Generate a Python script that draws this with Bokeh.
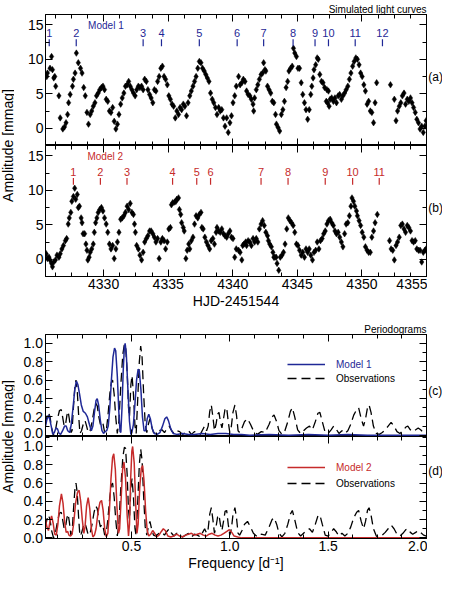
import math
from bokeh.plotting import figure
from bokeh.models import (Range1d, LinearAxis, SingleIntervalTicker, FixedTicker, Label, Legend,
                          LegendItem, NumeralTickFormatter, CustomLabelingPolicy)
from bokeh.layouts import row, column
from bokeh.core.properties import value
from bokeh.embed import file_html
from bokeh.resources import INLINE

FONT = "Liberation Sans"
BLUE = "#1f2896"
RED = "#c62b2b"

# ---------------- light-curve data (HJD-2451544, mmag) ----------------
TA = [4325.60, 4325.65, 4325.85, 4325.97, 4326.04, 4326.14, 4326.22, 4326.29, 4326.54, 4326.64,
      4326.84, 4326.97, 4327.09, 4327.21, 4327.29, 4327.41, 4327.59, 4327.66, 4327.79, 4327.89,
      4328.04, 4328.21, 4328.33, 4328.46, 4328.58, 4328.71, 4328.83, 4328.96, 4329.08, 4329.20,
      4329.33, 4329.45, 4329.58, 4329.70, 4329.83, 4329.95, 4330.07, 4330.20, 4330.32, 4330.45,
      4330.57, 4330.70, 4330.82, 4330.95, 4331.07, 4331.19, 4331.32, 4331.44, 4331.57, 4331.69,
      4331.82, 4331.94, 4332.06, 4332.19, 4332.31, 4332.44, 4332.56, 4332.69, 4332.81, 4332.94,
      4333.06, 4333.18, 4333.31, 4333.43, 4333.56, 4333.68, 4333.81, 4333.93, 4334.05, 4334.18,
      4334.30, 4334.43, 4334.55, 4334.68, 4334.80, 4334.93, 4335.05, 4335.17, 4335.30, 4335.42,
      4335.55, 4335.67, 4335.80, 4335.92, 4336.04, 4336.17, 4336.29, 4336.42, 4336.54, 4336.67,
      4336.79, 4336.92, 4337.04, 4337.16, 4337.29, 4337.41, 4337.54, 4337.66, 4337.79, 4337.91,
      4338.03, 4338.16, 4338.28, 4338.41, 4338.53, 4338.66, 4338.78, 4338.91, 4339.03, 4339.15,
      4339.28, 4339.40, 4339.53, 4339.65, 4339.78, 4339.90, 4340.02, 4340.15, 4340.27, 4340.45,
      4340.57, 4340.70, 4340.82, 4340.95, 4341.07, 4341.19, 4341.32, 4341.44, 4341.57, 4341.62,
      4341.69, 4341.82, 4341.94, 4342.06, 4342.19, 4342.31, 4342.39, 4342.49, 4342.56, 4342.69,
      4342.81, 4342.94, 4343.06, 4343.18, 4343.31, 4343.38, 4343.51, 4343.63, 4343.76, 4343.88,
      4344.00, 4344.13, 4344.25, 4344.35, 4344.48, 4344.60, 4344.70, 4344.80, 4344.93, 4345.05,
      4345.17, 4345.30, 4345.42, 4345.55, 4345.67, 4345.80, 4345.92, 4346.04, 4346.12, 4346.22,
      4346.29, 4346.42, 4346.54, 4346.62, 4346.74, 4346.87, 4346.99, 4347.11, 4347.24, 4347.29,
      4347.34, 4347.41, 4347.46, 4347.54, 4347.66, 4347.79, 4347.91, 4348.03, 4348.16, 4348.28,
      4348.41, 4348.53, 4348.66, 4348.78, 4348.91, 4349.03, 4349.15, 4349.28, 4349.40, 4349.53,
      4349.65, 4349.78, 4349.90, 4350.02, 4350.15, 4350.27, 4350.40, 4350.52, 4350.65, 4350.77,
      4350.90, 4351.02, 4351.14, 4352.21, 4352.51, 4352.64, 4352.76, 4352.89, 4353.01, 4353.13,
      4353.26, 4353.38, 4353.51, 4353.63, 4353.76, 4353.88, 4354.00, 4354.13, 4354.25, 4354.38,
      4354.50, 4354.63, 4354.75, 4354.88, 4354.97]
VA = [7.5, 8.0, 8.7, 10.4, 8.5, 7.3, 7.5, 6.1, 4.7, 1.5,
      -0.1, 0.2, 0.8, 2.0, 3.7, 4.9, 6.1, 7.1, 8.0, 10.9,
      9.5, 8.7, 8.0, 5.9, 4.7, 2.3, 0.6, 2.0, 2.5, 3.2,
      3.7, 4.7, 5.1, 5.6, 5.9, 6.1, 5.6, 4.2, 3.9, 2.5,
      2.3, 3.0, 1.0, -0.1, 0.6, 2.0, 3.5, 4.4, 5.1, 6.1,
      6.3, 6.8, 6.1, 5.6, 5.1, 4.7, 5.6, 6.1, 5.9, 6.1,
      5.6, 7.1, 6.8, 5.6, 4.9, 4.4, 3.7, 5.6, 5.4, 6.8,
      7.5, 8.7, 9.0, 7.5, 7.1, 6.3, 4.7, 4.2, 3.5, 3.2,
      1.5, 2.5, 2.0, 3.0, 2.7, 3.5, 3.2, 1.8, 3.7, 4.7,
      5.4, 6.1, 6.8, 7.5, 8.7, 9.7, 9.5, 8.7, 8.3, 7.8,
      7.3, 6.8, 5.1, 4.2, 3.7, 3.0, 2.0, 3.0, 2.5, 2.7,
      1.5, 0.3, 1.5, -0.6, 0.8, 1.8, 3.7, 4.7, 6.1, 7.5,
      6.3, 6.6, 7.1, 6.8, 5.4, 4.9, 4.7, 4.2, 3.5, 2.5,
      4.4, 5.6, 6.3, 7.1, 7.8, 8.0, 9.5, 8.5, 8.3, 6.1,
      5.6, 5.1, 3.9, 3.7, 2.0, 0.6, 0.1, -0.4, 2.0, 2.7,
      3.9, 5.9, 6.8, 8.3, 8.7, 9.0, 11.6, 10.9, 10.4, 8.7,
      8.7, 6.6, 4.9, 3.7, 2.7, 1.3, 2.7, 4.9, 6.1, 7.3,
      8.5, 9.2, 10.2, 10.0, 7.8, 6.8, 6.6, 5.9, 3.9, 5.6,
      3.7, 5.4, 3.2, 4.2, 4.4, 3.9, 4.4, 3.7, 4.7, 4.9,
      4.2, 4.7, 5.1, 5.6, 6.1, 7.1, 8.0, 9.0, 9.7, 10.2,
      10.0, 9.2, 8.0, 7.5, 6.3, 5.4, 3.5, 3.9, 2.5, 2.3,
      0.8, 3.7, 6.6, 6.3, 4.2, 1.1, 2.5, 3.2, 3.7, 4.7,
      5.1, 3.5, 4.2, 3.9, 4.4, 3.7, 3.0, 2.3, 1.3, 0.8,
      -0.1, 0.3, -0.6, 0.3, 1.1]

TB = [4325.55, 4325.65, 4325.77, 4325.85, 4325.97, 4326.04, 4326.14, 4326.27, 4326.39, 4326.54,
      4326.64, 4326.77, 4326.89, 4327.04, 4327.14, 4327.26, 4327.34, 4327.46, 4327.54, 4327.66,
      4327.76, 4327.84, 4327.96, 4328.04, 4328.13, 4328.26, 4328.33, 4328.41, 4328.53, 4328.63,
      4328.71, 4328.78, 4328.88, 4328.96, 4329.08, 4329.20, 4329.28, 4329.38, 4329.48, 4329.58,
      4329.70, 4329.83, 4329.95, 4330.07, 4330.20, 4330.32, 4330.45, 4330.57, 4330.70, 4330.82,
      4330.95, 4331.07, 4331.19, 4331.32, 4331.44, 4331.57, 4331.69, 4331.82, 4331.94, 4332.06,
      4332.19, 4332.31, 4332.39, 4332.46, 4332.56, 4332.69, 4332.81, 4332.94, 4333.06, 4333.18,
      4333.31, 4333.43, 4333.56, 4333.68, 4333.81, 4333.93, 4334.05, 4334.18, 4334.30, 4334.43,
      4334.55, 4334.68, 4334.80, 4334.93, 4335.05, 4335.17, 4335.25, 4335.35, 4335.50, 4335.60,
      4335.67, 4335.80, 4335.87, 4335.97, 4336.04, 4336.17, 4336.24, 4336.37, 4336.47, 4336.59,
      4336.67, 4336.79, 4336.92, 4337.04, 4337.16, 4337.29, 4337.41, 4337.54, 4337.61, 4337.71,
      4337.84, 4337.96, 4338.08, 4338.21, 4338.33, 4338.46, 4338.58, 4338.71, 4338.78, 4338.91,
      4339.03, 4339.15, 4339.28, 4339.40, 4339.53, 4339.65, 4339.78, 4339.90, 4340.02, 4340.15,
      4340.27, 4340.45, 4340.57, 4340.70, 4340.77, 4340.87, 4341.00, 4341.07, 4341.19, 4341.32,
      4341.44, 4341.57, 4341.69, 4341.82, 4341.94, 4342.06, 4342.19, 4342.31, 4342.44, 4342.56,
      4342.69, 4342.76, 4342.86, 4342.99, 4343.11, 4343.18, 4343.26, 4343.36, 4343.43, 4343.56,
      4343.68, 4343.81, 4343.93, 4344.05, 4344.18, 4344.30, 4344.43, 4344.55, 4344.68, 4344.80,
      4344.93, 4345.05, 4345.17, 4345.30, 4345.42, 4345.55, 4345.67, 4345.80, 4345.92, 4346.04,
      4346.17, 4346.29, 4346.42, 4346.54, 4346.67, 4346.79, 4346.92, 4347.04, 4347.16, 4347.29,
      4347.41, 4347.54, 4347.66, 4347.79, 4347.91, 4348.03, 4348.16, 4348.28, 4348.41, 4348.53,
      4348.66, 4348.78, 4348.91, 4349.03, 4349.15, 4349.23, 4349.35, 4349.45, 4349.58, 4349.65,
      4349.78, 4349.90, 4350.02, 4350.15, 4350.27, 4350.40, 4350.52, 4350.65, 4350.77, 4350.90,
      4351.02, 4351.19, 4352.14, 4352.26, 4352.39, 4352.51, 4352.64, 4352.76, 4352.89, 4353.01,
      4353.13, 4353.26, 4353.38, 4353.51, 4353.63, 4353.76, 4353.88, 4354.00, 4354.13, 4354.25,
      4354.38, 4354.50, 4354.63, 4354.75, 4354.88, 4354.97]
VB = [0.8, 0.1, 0.3, -0.1, -0.6, -1.1, -0.4, -0.1, 0.6, 0.3,
      0.8, 1.5, 2.0, 2.7, 3.0, 5.1, 6.0, 6.8, 8.4, 9.1,
      10.3, 8.7, 9.4, 7.5, 7.7, 6.0, 5.3, 3.7, 3.7, 2.2,
      1.3, -0.1, 0.3, 1.0, 1.5, 2.2, 3.9, 5.3, 6.0, 6.8,
      7.2, 7.5, 7.0, 6.0, 5.1, 3.9, 2.2, 1.5, 2.0, 0.1,
      1.5, 2.5, 3.9, 5.8, 6.0, 6.3, 6.8, 7.7, 7.2, 8.1,
      6.8, 6.5, 5.1, 3.9, 2.0, 1.5, 0.6, -0.1, 1.0, 2.5,
      3.0, 3.4, 4.1, 4.1, 3.7, 3.2, 2.5, 3.0, 0.1, 2.5,
      3.0, 2.7, 1.5, 2.5, 4.4, 4.6, 7.9, 8.2, 8.3, 8.4,
      8.7, 8.9, 7.2, 6.5, 5.3, 4.6, 4.1, 0.1, 1.3, 2.2,
      1.5, 2.7, 3.2, 5.1, 6.3, 6.0, 6.5, 6.8, 4.6, 4.4,
      3.2, 2.5, 2.0, 1.5, 2.7, 3.0, 2.2, 3.9, 4.6, 4.1,
      3.9, 4.4, 3.7, 3.4, 3.2, 3.7, 4.1, 3.2, 3.0, 0.3,
      1.5, 1.3, 1.0, -0.1, 2.0, 2.2, 2.5, 2.0, 2.7, 2.5,
      2.0, 3.0, 2.5, 3.0, 2.5, 4.4, 5.1, 5.6, 4.9, 3.9,
      3.4, 2.7, 2.2, 1.8, 1.0, 0.3, 0.3, 0.3, -0.6, -1.6,
      0.3, 0.6, 1.0, 2.2, 4.4, 6.0, 5.6, 5.3, 4.9, 3.9,
      2.2, 2.0, 1.3, 0.6, 1.0, 0.3, 1.5, 1.0, 1.5, 0.6,
      -0.1, 1.0, 1.3, 2.5, 1.5, 2.7, 3.0, 3.7, 4.1, 5.1,
      5.6, 5.8, 5.3, 4.9, 4.1, 3.7, 3.9, 3.2, 2.5, 1.8,
      3.7, 5.1, 5.3, 6.3, 7.7, 8.9, 8.4, 7.7, 7.0, 6.3,
      5.6, 4.9, 3.9, 3.2, 1.8, 1.3, 1.0, 1.0, 3.2, 4.1,
      5.3, 6.5, 2.7, 1.5, 1.3, -0.1, 2.0, 2.5, 3.2, 4.9,
      5.1, 4.4, 3.9, 4.9, 4.6, 4.1, 2.7, 2.5, 2.7, 1.5,
      1.3, 1.3, -0.4, 1.0, 1.3, 1.5]

# event markers
M1_T = [4325.79, 4327.88, 4333.06, 4334.48, 4337.41, 4340.34, 4342.39, 4344.67,
        4346.37, 4347.41, 4349.48, 4351.59]
M1_LAB = ["1", "2", "3", "4", "5", "6", "7", "8", "9", "10", "11", "12"]
M2_T = [4327.66, 4329.75, 4331.81, 4335.34, 4337.21, 4338.28, 4342.19, 4344.28,
        4347.16, 4349.28, 4351.34]
M2_LAB = ["1", "2", "3", "4", "5", "6", "7", "8", "9", "10", "11"]

# ---------------- periodograms (frequency d^-1, normalised amplitude) ----------------
F_M1 = [0.063, 0.070, 0.080, 0.092, 0.100, 0.108, 0.116, 0.124, 0.132, 0.140,
        0.150, 0.160, 0.168, 0.176, 0.186, 0.194, 0.203, 0.212, 0.220, 0.228,
        0.236, 0.245, 0.255, 0.266, 0.276, 0.286, 0.296, 0.304, 0.312, 0.320,
        0.326, 0.333, 0.342, 0.350, 0.358, 0.366, 0.374, 0.382, 0.390, 0.398,
        0.406, 0.414, 0.420, 0.428, 0.436, 0.442, 0.446, 0.452, 0.458, 0.464,
        0.468, 0.474, 0.482, 0.490, 0.497, 0.502, 0.510, 0.518, 0.526, 0.534,
        0.540, 0.548, 0.556, 0.564, 0.572, 0.580, 0.588, 0.596, 0.606, 0.616,
        0.630, 0.645, 0.658, 0.670, 0.679, 0.688, 0.700, 0.712, 0.730, 0.760,
        0.790, 0.820, 0.860, 0.900, 0.940, 0.980, 1.020, 1.060, 1.100, 1.200,
        1.300, 1.400, 1.500, 1.600, 1.700, 1.800, 1.900, 2.000]
A_M1 = [0.10, 0.17, 0.22, 0.10, 0.01, 0.03, 0.08, 0.07, 0.02, 0.01,
        0.05, 0.10, 0.10, 0.05, 0.03, 0.12, 0.30, 0.50, 0.59, 0.55,
        0.45, 0.33, 0.26, 0.24, 0.20, 0.12, 0.05, 0.10, 0.25, 0.38,
        0.40, 0.33, 0.16, 0.05, 0.02, 0.04, 0.05, 0.10, 0.30, 0.60,
        0.85, 0.95, 0.92, 0.65, 0.25, 0.04, 0.03, 0.30, 0.70, 0.96,
        1.00, 0.88, 0.50, 0.15, 0.01, 0.03, 0.12, 0.35, 0.60, 0.72,
        0.70, 0.50, 0.20, 0.05, 0.05, 0.18, 0.23, 0.18, 0.07, 0.02,
        0.01, 0.03, 0.10, 0.18, 0.20, 0.16, 0.07, 0.02, 0.01, 0.02,
        0.01, 0.01, 0.02, 0.01, 0.02, 0.02, 0.01, 0.01, 0.00, 0.01,
        0.00, 0.01, 0.00, 0.01, 0.00, 0.00, 0.00, 0.00]

F_M2 = [0.063, 0.070, 0.078, 0.086, 0.094, 0.102, 0.110, 0.118, 0.126, 0.134,
        0.144, 0.152, 0.160, 0.168, 0.176, 0.182, 0.190, 0.198, 0.206, 0.216,
        0.226, 0.234, 0.242, 0.250, 0.258, 0.264, 0.272, 0.280, 0.288, 0.296,
        0.304, 0.312, 0.320, 0.330, 0.340, 0.348, 0.356, 0.364, 0.372, 0.380,
        0.388, 0.396, 0.404, 0.410, 0.418, 0.426, 0.434, 0.440, 0.448, 0.455,
        0.462, 0.470, 0.478, 0.485, 0.490, 0.496, 0.502, 0.506, 0.514, 0.522,
        0.528, 0.534, 0.542, 0.550, 0.557, 0.564, 0.572, 0.580, 0.588, 0.598,
        0.608, 0.618, 0.628, 0.640, 0.652, 0.662, 0.672, 0.685, 0.700, 0.715,
        0.730, 0.745, 0.760, 0.775, 0.790, 0.805, 0.820, 0.835, 0.850, 0.865,
        0.880, 0.895, 0.910, 0.925, 0.940, 0.955, 0.970, 0.985, 0.998, 1.010,
        1.022, 1.040, 1.060, 1.100, 1.200, 1.300, 1.400, 1.500, 1.600, 1.700,
        1.800, 1.900, 2.000]
A_M2 = [0.20, 0.12, 0.08, 0.18, 0.24, 0.16, 0.04, 0.03, 0.15, 0.35,
        0.48, 0.38, 0.18, 0.06, 0.07, 0.03, 0.02, 0.04, 0.15, 0.38,
        0.50, 0.52, 0.40, 0.20, 0.05, 0.12, 0.35, 0.44, 0.32, 0.10,
        0.01, 0.03, 0.10, 0.28, 0.39, 0.41, 0.30, 0.10, 0.01, 0.05,
        0.30, 0.65, 0.88, 0.92, 0.75, 0.35, 0.05, 0.10, 0.45, 0.75,
        0.83, 0.65, 0.25, 0.02, 0.15, 0.65, 0.95, 1.00, 0.82, 0.35,
        0.05, 0.15, 0.55, 0.76, 0.79, 0.62, 0.30, 0.08, 0.02, 0.04,
        0.08, 0.05, 0.01, 0.03, 0.07, 0.10, 0.08, 0.02, 0.01, 0.02,
        0.04, 0.02, 0.01, 0.03, 0.04, 0.05, 0.03, 0.04, 0.05, 0.03,
        0.02, 0.04, 0.05, 0.03, 0.02, 0.03, 0.05, 0.07, 0.09, 0.06,
        0.02, 0.01, 0.00, 0.00, 0.00, 0.00, 0.00, 0.00, 0.00, 0.00,
        0.00, 0.00, 0.00]

F_OBS = [0.063, 0.070, 0.078, 0.086, 0.094, 0.104, 0.114, 0.124, 0.134, 0.143,
         0.150, 0.158, 0.165, 0.172, 0.178, 0.184, 0.192, 0.198, 0.205, 0.212,
         0.218, 0.224, 0.232, 0.238, 0.246, 0.256, 0.264, 0.272, 0.280, 0.290,
         0.300, 0.310, 0.318, 0.326, 0.334, 0.342, 0.350, 0.356, 0.364, 0.372,
         0.380, 0.390, 0.398, 0.404, 0.412, 0.420, 0.428, 0.436, 0.446, 0.456,
         0.464, 0.470, 0.478, 0.485, 0.490, 0.497, 0.503, 0.510, 0.518, 0.524,
         0.532, 0.540, 0.547, 0.554, 0.562, 0.570, 0.578, 0.586, 0.594, 0.602,
         0.612, 0.625, 0.640, 0.655, 0.668, 0.680, 0.692, 0.704, 0.716, 0.730,
         0.745, 0.760, 0.775, 0.790, 0.805, 0.820, 0.835, 0.850, 0.862, 0.872,
         0.882, 0.890, 0.898, 0.906, 0.914, 0.922, 0.930, 0.938, 0.945, 0.952,
         0.960, 0.968, 0.976, 0.984, 0.992, 1.000, 1.008, 1.016, 1.026, 1.034,
         1.042, 1.050, 1.062, 1.075, 1.090, 1.105, 1.120, 1.140, 1.160, 1.180,
         1.200, 1.215, 1.225, 1.238, 1.250, 1.265, 1.280, 1.295, 1.308, 1.318,
         1.330, 1.345, 1.360, 1.375, 1.390, 1.405, 1.420, 1.435, 1.448, 1.458,
         1.470, 1.485, 1.500, 1.515, 1.528, 1.540, 1.555, 1.570, 1.585, 1.600,
         1.615, 1.630, 1.645, 1.655, 1.668, 1.680, 1.690, 1.700, 1.708, 1.718,
         1.730, 1.745, 1.760, 1.775, 1.790, 1.805, 1.820, 1.835, 1.850, 1.865,
         1.880, 1.895, 1.905, 1.918, 1.930, 1.945, 1.958, 1.970, 1.985, 2.000]
A_OBS = [0.12, 0.20, 0.25, 0.20, 0.08, 0.00, 0.06, 0.18, 0.27, 0.28,
         0.20, 0.10, 0.12, 0.22, 0.26, 0.18, 0.03, 0.05, 0.30, 0.52,
         0.60, 0.50, 0.20, 0.02, 0.05, 0.13, 0.16, 0.10, 0.03, 0.05,
         0.15, 0.28, 0.35, 0.32, 0.20, 0.12, 0.15, 0.12, 0.03, 0.05,
         0.20, 0.45, 0.58, 0.60, 0.45, 0.20, 0.02, 0.15, 0.55, 0.88,
         0.99, 0.98, 0.70, 0.30, 0.20, 0.55, 0.65, 0.45, 0.10, 0.02,
         0.40, 0.80, 0.97, 0.85, 0.45, 0.12, 0.03, 0.12, 0.18, 0.10,
         0.03, 0.02, 0.05, 0.06, 0.03, 0.07, 0.10, 0.05, 0.02, 0.05,
         0.04, 0.01, 0.03, 0.05, 0.01, 0.04, 0.03, 0.01, 0.06, 0.10,
         0.05, 0.10, 0.26, 0.33, 0.20, 0.05, 0.12, 0.23, 0.25, 0.15,
         0.08, 0.18, 0.29, 0.30, 0.15, 0.03, 0.10, 0.25, 0.33, 0.22,
         0.05, 0.03, 0.08, 0.15, 0.18, 0.12, 0.05, 0.01, 0.04, 0.03,
         0.12, 0.20, 0.22, 0.15, 0.05, 0.01, 0.05, 0.15, 0.26, 0.30,
         0.20, 0.06, 0.02, 0.05, 0.08, 0.10, 0.06, 0.15, 0.24, 0.25,
         0.15, 0.03, 0.02, 0.06, 0.10, 0.07, 0.02, 0.05, 0.02, 0.05,
         0.12, 0.22, 0.28, 0.30, 0.18, 0.10, 0.18, 0.30, 0.33, 0.25,
         0.10, 0.02, 0.01, 0.03, 0.06, 0.10, 0.14, 0.10, 0.04, 0.02,
         0.05, 0.09, 0.10, 0.06, 0.04, 0.06, 0.08, 0.06, 0.03, 0.02]

PG_YTICKS = [0.0, 0.2, 0.4, 0.6, 0.8, 1.0]
PG_YLABELS = ["0.0", "0.2", "0.4", "0.6", "0.8", "1.0"]

assert len(TA) == len(VA) and len(TB) == len(VB)
assert len(F_M1) == len(A_M1) and len(F_M2) == len(A_M2) and len(F_OBS) == len(A_OBS)

# ---------------- layout constants ----------------
LAB_W, RLAB_W, FRAME_W, LEFT, RIGHT = 14, 15, 381, 31, 1
HA_TOP, HA_FR, HB_FR, HB_BOT = 14, 131, 131, 36
HC_TOP, HC_FR, HD_FR, HD_BOT = 22, 102, 102, 35

HIDE = CustomLabelingPolicy(code="for (const i of Array.from(indices)) { indices.unset(i) }\nreturn indices")


def style_axis(ax, labels):
    ax.axis_line_color = "black"
    ax.axis_line_width = 1
    ax.major_tick_line_color = "black"
    ax.minor_tick_line_color = "black"
    ax.major_tick_line_width = 1
    ax.minor_tick_line_width = 1
    ax.major_tick_in = 7
    ax.major_tick_out = 0
    ax.minor_tick_in = 4
    ax.minor_tick_out = 0
    if labels:
        ax.major_label_text_font = FONT
        ax.major_label_text_font_size = "14px"
        ax.major_label_text_color = "black"
        ax.major_label_standoff = 2
    else:
        ax.major_label_text_font_size = "0px"
        ax.major_label_standoff = 0
        ax.major_label_policy = HIDE


def panel(width, height, top, bottom, left, xr, yr, xint, xminor, yint, yminor, xfmt,
          bottom_labels, left_labels, xlabel=None):
    p = figure(width=width, height=height, x_range=xr, y_range=yr,
               output_backend="svg", toolbar_location=None,
               min_border_left=left, min_border_right=RIGHT,
               min_border_top=top, min_border_bottom=bottom)
    p.xgrid.visible = False
    p.ygrid.visible = False
    p.outline_line_color = "black"
    p.outline_line_alpha = 1.0
    p.outline_line_width = 1
    p.background_fill_color = "white"
    p.border_fill_color = "white"

    xb = p.xaxis[0]
    xb.ticker = SingleIntervalTicker(interval=xint, num_minor_ticks=xminor)
    if xfmt:
        xb.formatter = NumeralTickFormatter(format=xfmt)
    style_axis(xb, bottom_labels)
    if xlabel:
        xb.axis_label = xlabel
        xb.axis_label_text_font = FONT
        xb.axis_label_text_font_size = "14px"
        xb.axis_label_text_font_style = "normal"
        xb.axis_label_text_color = "black"
        xb.axis_label_standoff = 1

    yl = p.yaxis[0]
    yl.ticker = SingleIntervalTicker(interval=yint, num_minor_ticks=yminor)
    style_axis(yl, left_labels)

    xt = LinearAxis(ticker=SingleIntervalTicker(interval=xint, num_minor_ticks=xminor))
    style_axis(xt, False)
    p.add_layout(xt, "above")
    yr_ax = LinearAxis(ticker=SingleIntervalTicker(interval=yint, num_minor_ticks=yminor))
    style_axis(yr_ax, False)
    p.add_layout(yr_ax, "right")
    return p


def set_title(p, text):
    p.title.text = text
    p.title.align = "right"
    p.title.text_font = FONT
    p.title.text_font_size = "10px"
    p.title.text_font_style = "normal"
    p.title.text_color = "black"
    try:
        p.title.standoff = 0
    except Exception:
        pass


def text_column(width, height, items, top=0, bottom=0, right=0, axis=None):
    """Narrow figure holding texts that belong outside the panel frames."""
    f = figure(width=width, height=height, x_range=Range1d(0, 1),
               y_range=Range1d(0, height - top - bottom), output_backend="svg",
               toolbar_location=None, min_border_left=0, min_border_right=right,
               min_border_top=top, min_border_bottom=bottom,
               x_axis_location=None, y_axis_location=("right" if axis else None),
               outline_line_color=None)
    for g in f.grid:
        g.visible = False
    f.background_fill_color = "white"
    f.border_fill_color = "white"
    for (txt, x, y, ang, size, align) in items:
        f.add_layout(Label(x=x, y=y, text=txt, angle=ang, text_align=align,
                           text_baseline="middle", text_font=FONT, text_font_size=size,
                           text_color="black"))
    if axis:
        ticks, labels = axis
        ax = f.yaxis[0]
        ax.ticker = FixedTicker(ticks=ticks, minor_ticks=[])
        ax.major_label_overrides = dict(zip(ticks, labels))
        ax.axis_line_color = None
        ax.major_tick_in = 0
        ax.major_tick_out = 0
        ax.minor_tick_in = 0
        ax.minor_tick_out = 0
        ax.major_label_standoff = 9
        ax.major_label_text_font = FONT
        ax.major_label_text_font_size = "14px"
        ax.major_label_text_color = "black"
    return f


# ---------------- light-curve panels ----------------
x_lc = Range1d(4325.5, 4355.0)
y_lc = (-2.5, 16.5)
W1 = LEFT + FRAME_W + RIGHT
pA = panel(W1, HA_TOP + HA_FR, HA_TOP, 0, LEFT, x_lc, Range1d(*y_lc), 5, 4, 5, 2, None,
           False, True)
pB = panel(W1, HB_FR + HB_BOT, 0, HB_BOT, LEFT, x_lc, Range1d(*y_lc), 5, 4, 5, 2, None,
           True, True, "HJD-2451544")
set_title(pA, "Simulated light curves")

for p, t, v in ((pA, TA, VA), (pB, TB, VB)):
    p.scatter(t, v, marker="diamond", size=6.5, fill_color="black", line_color="black",
              line_width=0.5)

pA.segment(x0=M1_T, x1=M1_T, y0=11.9, y1=12.9, line_color=BLUE, line_width=1.2)
pA.text(x=M1_T, y=13.85, text=M1_LAB, text_font=value(FONT), text_font_size="11px",
        text_color=BLUE, text_align="center", text_baseline="middle")
pA.add_layout(Label(x=4328.8, y=14.85, text="Model 1", text_font=FONT,
                    text_font_size="10px", text_color=BLUE, text_baseline="middle"))
pB.segment(x0=M2_T, x1=M2_T, y0=10.8, y1=11.8, line_color=RED, line_width=1.2)
pB.text(x=M2_T, y=12.6, text=M2_LAB, text_font=value(FONT), text_font_size="11px",
        text_color=RED, text_align="center", text_baseline="middle")
pB.add_layout(Label(x=4328.75, y=14.9, text="Model 2", text_font=FONT,
                    text_font_size="10px", text_color=RED, text_baseline="middle"))

# ---------------- periodogram panels ----------------
x_f = Range1d(0.063, 2.0)
yc = Range1d(-0.013, 1.097)
yd = Range1d(-0.007, 1.109)
W2 = FRAME_W + RIGHT
pC = panel(W2, HC_TOP + HC_FR, HC_TOP, 0, 0, x_f, yc, 0.5, 4, 0.2, 2, "0.0", False, False)
pD = panel(W2, HD_FR + HD_BOT, 0, HD_BOT, 0, x_f, yd, 0.5, 4, 0.2, 2, "0.0", True, False,
           "Frequency [d\u207b\u00b9]")
set_title(pC, "Periodograms")

for p, fm, am, col, name, legy in ((pC, F_M1, A_M1, BLUE, "Model 1", (66, 52)),
                                   (pD, F_M2, A_M2, RED, "Model 2", (65, 49))):
    r_obs = p.line(F_OBS, A_OBS, line_color="black", line_width=1.3, line_dash="9 5")
    r_mod = p.line(fm, am, line_color=col, line_width=1.5)
    for rend, lab, tcol, ly in ((r_mod, name, col, legy[0]),
                                (r_obs, "Observations", "black", legy[1])):
        lg = Legend(items=[LegendItem(label=lab, renderers=[rend])],
                    location=(242, ly), glyph_width=38, glyph_height=12,
                    label_height=12, label_standoff=11, padding=0, margin=0, spacing=0,
                    border_line_color=None, background_fill_alpha=0,
                    label_text_color=tcol, label_text_font=FONT,
                    label_text_font_size="10px")
        p.add_layout(lg)

# ---------------- side texts ----------------
H1 = HA_TOP + HA_FR + HB_FR + HB_BOT
H2 = HC_TOP + HC_FR + HD_FR + HD_BOT
ya = H1 - (HA_TOP + (y_lc[1] - 7.5) / (y_lc[1] - y_lc[0]) * HA_FR)
yb = H1 - (HA_TOP + HA_FR + (y_lc[1] - 7.5) / (y_lc[1] - y_lc[0]) * HB_FR)
yc_tag = (HD_FR + (0.55 - yc.start) / (yc.end - yc.start) * HC_FR) + HD_BOT
yd_tag = ((0.55 - yd.start) / (yd.end - yd.start) * HD_FR) + HD_BOT

left1 = text_column(LAB_W, H1, [("Amplitude [mmag]", 0.5, H1 - HA_TOP - HA_FR, math.pi / 2,
                                 "14px", "center")])
right1 = text_column(RLAB_W, H1, [("(a)", 0.05, ya, 0, "12px", "left"),
                                  ("(b)", 0.05, yb, 0, "12px", "left")])

# tick labels of the two periodogram panels, in pixels of the joint frame
pg_pos = []
pg_lab = []
for v, lab in zip(PG_YTICKS, PG_YLABELS):
    pg_pos.append(round((v - yd.start) / (yd.end - yd.start) * HD_FR, 2))
    pg_lab.append(lab)
for v, lab in zip(PG_YTICKS, PG_YLABELS):
    shift = 2.0 if v == 0.0 else 0.0
    pg_pos.append(round(HD_FR + (v - yc.start) / (yc.end - yc.start) * HC_FR + shift, 2))
    pg_lab.append(lab)

left2 = text_column(LAB_W + LEFT, H2, [("Amplitude [mmag]", LAB_W / 2 / LAB_W, HD_FR,
                                        math.pi / 2, "14px", "center")],
                    top=HC_TOP, bottom=HD_BOT, right=LEFT, axis=(pg_pos, pg_lab))
right2 = text_column(RLAB_W, H2, [("(c)", 0.05, yc_tag, 0, "12px", "left"),
                                  ("(d)", 0.05, yd_tag, 0, "12px", "left")])

top_row = row(left1, column(pA, pB), right1)
bot_row = row(left2, column(pC, pD), right2)
layout = column(top_row, bot_row)

open("out.html", "w").write(file_html(layout, INLINE))
